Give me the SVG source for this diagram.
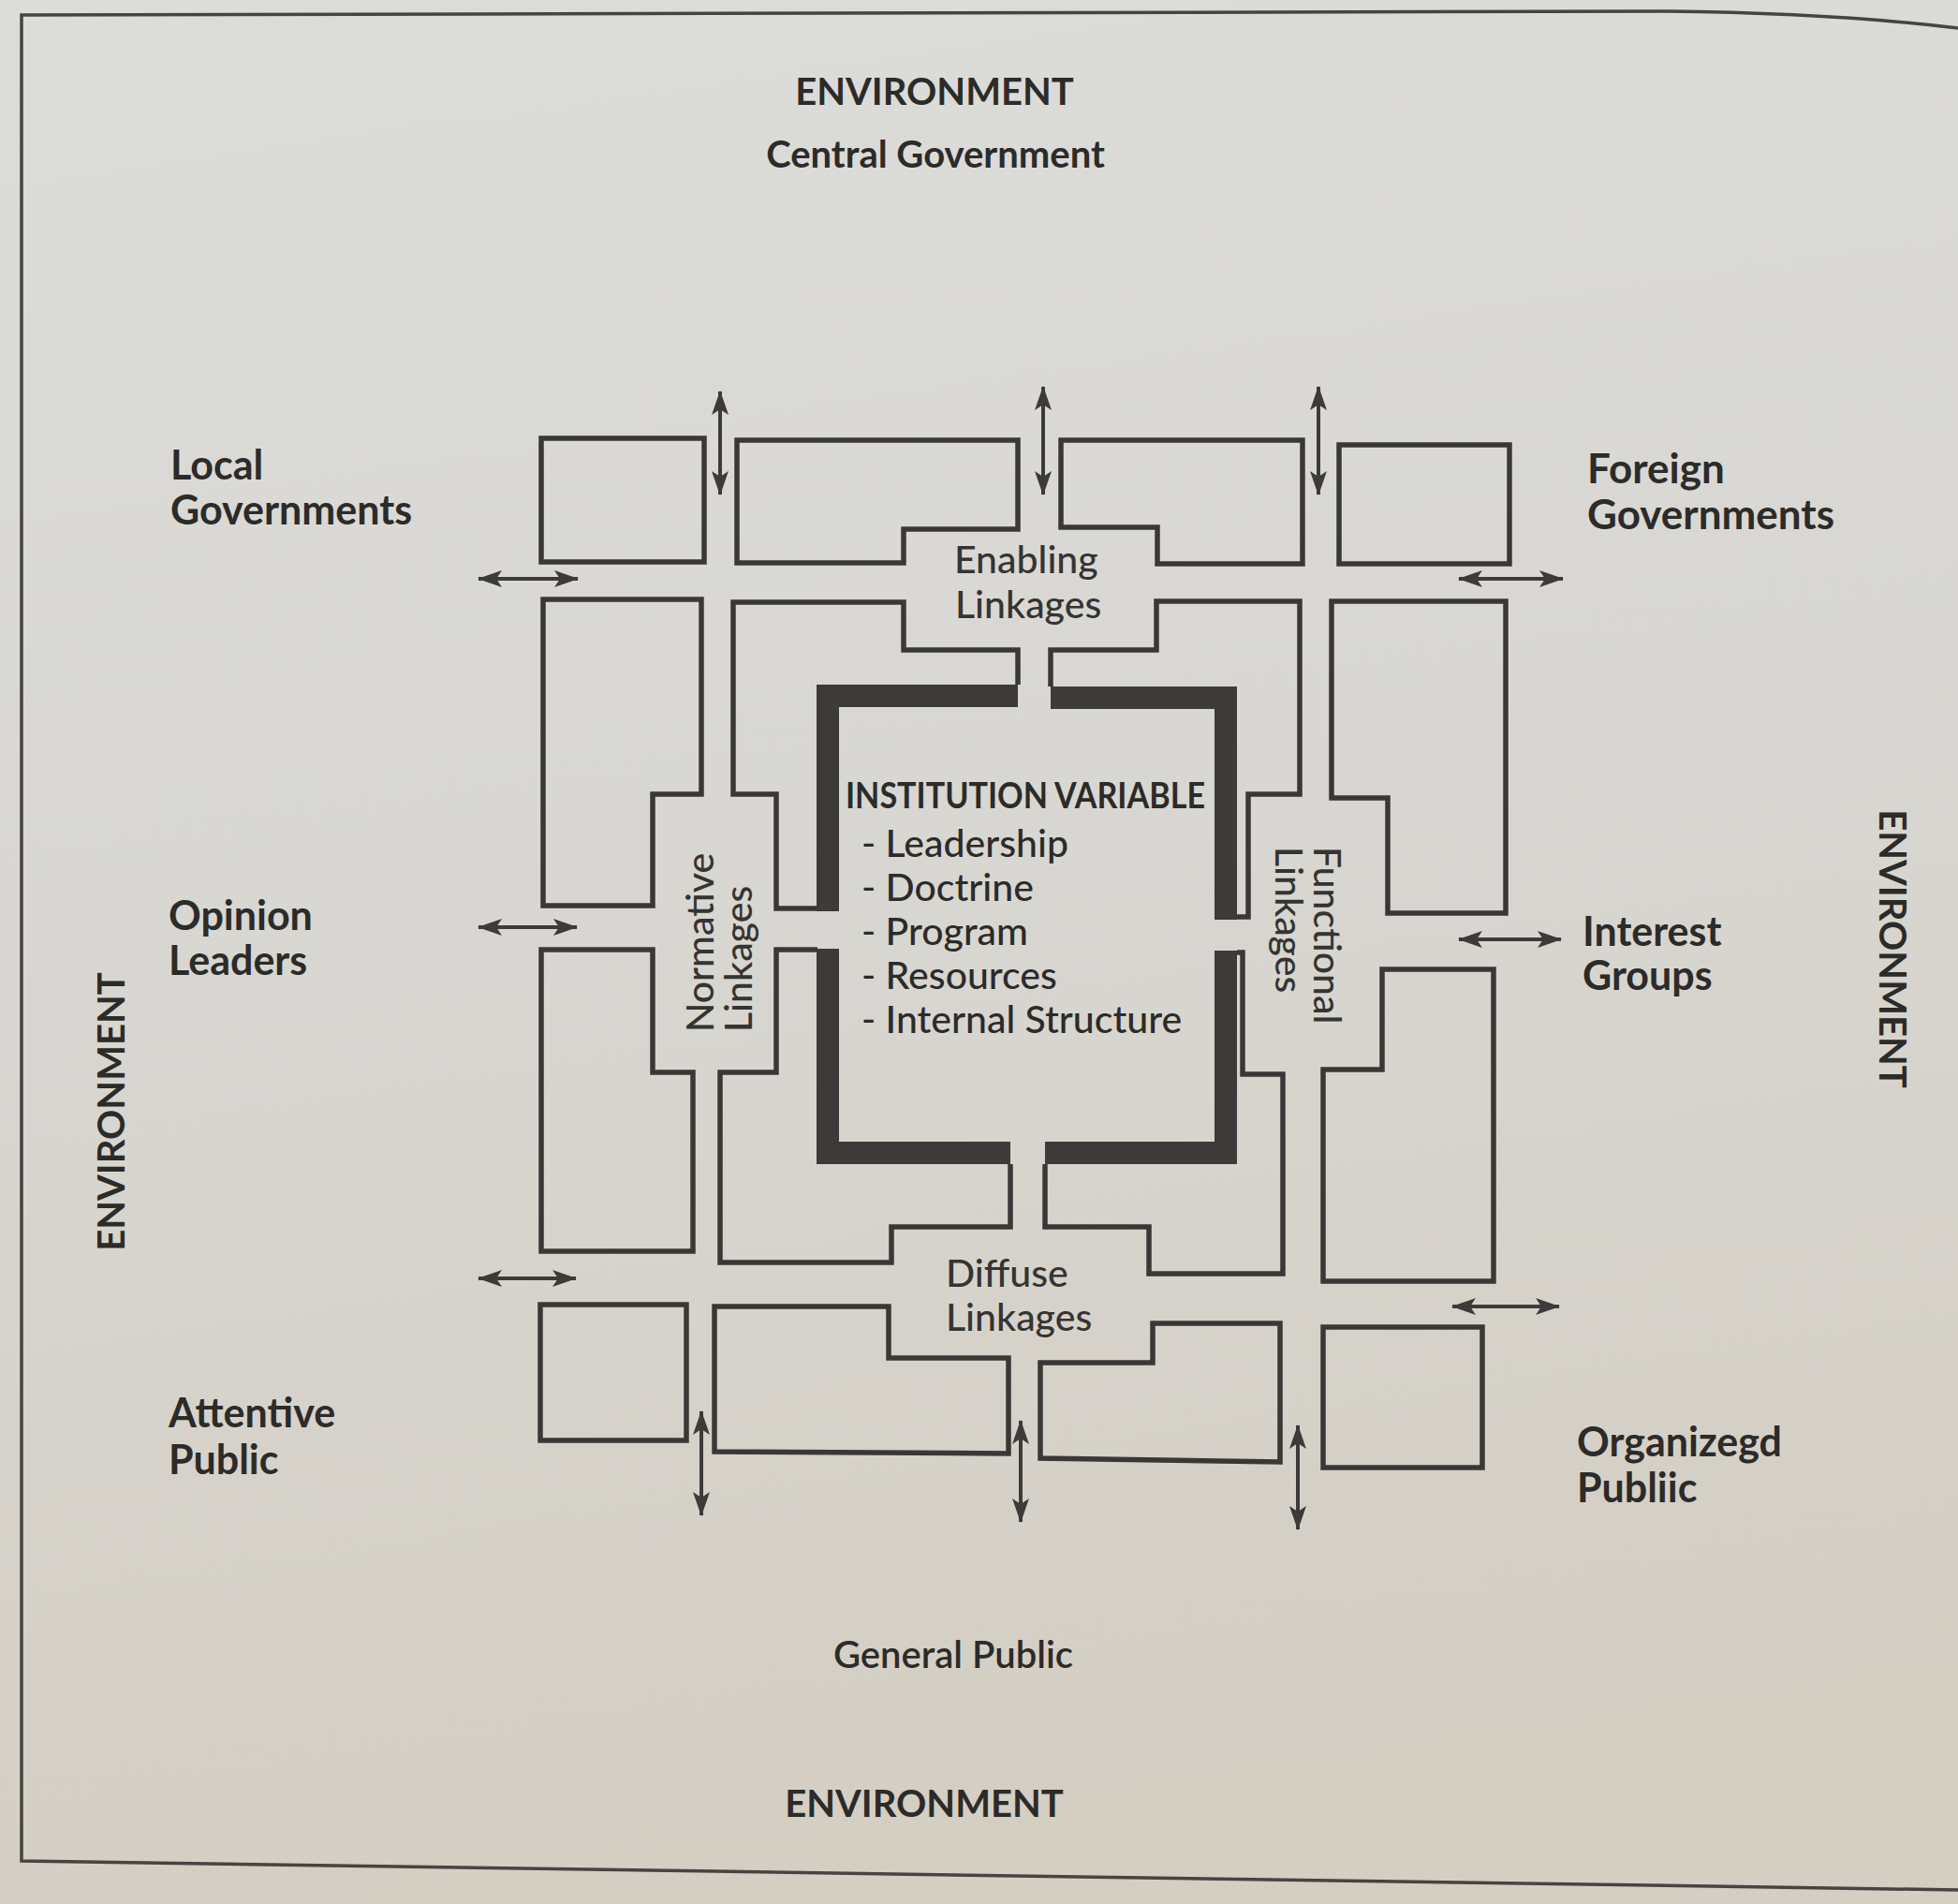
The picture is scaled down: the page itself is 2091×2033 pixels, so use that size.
<svg xmlns="http://www.w3.org/2000/svg" width="2091" height="2033" viewBox="0 0 2091 2033">
<defs>
  <linearGradient id="bg" x1="0" y1="0" x2="0.15" y2="1">
    <stop offset="0" stop-color="#dcdcda"/>
    <stop offset="0.55" stop-color="#d8d6d1"/>
    <stop offset="1" stop-color="#d4cec3"/>
  </linearGradient>
  <marker id="ah" viewBox="0 0 26 18" refX="25" refY="9" markerWidth="26" markerHeight="18" markerUnits="userSpaceOnUse" orient="auto-start-reverse">
    <path d="M0,0 L26,9 L0,18 L6,9 Z" fill="#3d3b39"/>
  </marker>
</defs>
<style>
  .box{fill:none;stroke:#3a3836;stroke-width:5.5;stroke-linejoin:miter}
  .thick{fill:none;stroke:#3d3b39;stroke-width:24;stroke-linejoin:miter;stroke-linecap:butt}
  .arr{fill:none;stroke:#3d3b39;stroke-width:4;marker-start:url(#ah);marker-end:url(#ah)}
  .frame{fill:none;stroke:#454442;stroke-width:3.5}
  .lbl{font-family:Lato,"Open Sans","Liberation Sans",sans-serif;font-weight:700;font-size:43px;fill:#2c2b29}
  .env{font-family:Lato,"Open Sans","Liberation Sans",sans-serif;font-weight:700;font-size:40px;fill:#2c2b29}
  .lnk{font-family:Lato,"Open Sans","Liberation Sans",sans-serif;font-weight:500;font-size:41px;fill:#353432}
  .inst{font-family:Lato,"Open Sans","Liberation Sans",sans-serif;font-weight:700;font-size:39px;fill:#2c2b29}
  .item{font-family:Lato,"Open Sans","Liberation Sans",sans-serif;font-weight:500;font-size:41px;fill:#2c2b29}
</style>
<rect x="0" y="0" width="2091" height="2033" fill="url(#bg)"/>
<path class="frame" d="M2091,30 Q1960,14 1780,12 L23,16 L23,1987 L2091,2018"/>

<g id="environment-labels">
  <text class="env" x="998" y="112" text-anchor="middle">ENVIRONMENT</text>
  <text class="env" x="987" y="1940" text-anchor="middle">ENVIRONMENT</text>
  <text class="env" transform="translate(133,1187) rotate(-90)" text-anchor="middle">ENVIRONMENT</text>
  <text class="env" transform="translate(2007,1013) rotate(90)" text-anchor="middle">ENVIRONMENT</text>
</g>

<g id="central-government"><text class="env" x="999" y="179" text-anchor="middle">Central Government</text></g>
<g id="local-governments"><text class="lbl" x="182" y="512">Local</text><text class="lbl" x="182" y="560">Governments</text></g>
<g id="foreign-governments"><text class="lbl" x="1695" y="516" style="font-size:44px">Foreign</text><text class="lbl" x="1695" y="565" style="font-size:44px">Governments</text></g>
<g id="opinion-leaders"><text class="lbl" x="180" y="993">Opinion</text><text class="lbl" x="180" y="1041">Leaders</text></g>
<g id="interest-groups"><text class="lbl" x="1690" y="1010">Interest</text><text class="lbl" x="1690" y="1057">Groups</text></g>
<g id="attentive-public"><text class="lbl" x="180" y="1524">Attentive</text><text class="lbl" x="180" y="1574">Public</text></g>
<g id="organized-public"><text class="lbl" x="1684" y="1555">Organizegd</text><text class="lbl" x="1684" y="1604">Publiic</text></g>
<g id="general-public"><text class="env" x="1018" y="1781" text-anchor="middle" style="font-weight:600">General Public</text></g>

<g id="top-row">
  <rect class="box" x="578" y="468" width="174" height="132"/>
  <path class="box" d="M787,470 L1087,470 L1087,565 L965,565 L965,601 L787,601 Z"/>
  <path class="box" d="M1133,470 L1391,470 L1391,602 L1236,602 L1236,563 L1133,563 Z"/>
  <rect class="box" x="1430" y="475" width="182" height="127"/>
</g>

<g id="middle-upper">
  <path class="box" d="M580,640 L749,640 L749,848 L697,848 L697,967 L580,967 Z"/>
  <path class="box" d="M1087,731 L1087,694 L965,694 L965,643 L783,643 L783,848 L829,848 L829,970 L873,970"/>
  <path class="box" d="M1122,733 L1122,694 L1235,694 L1235,642 L1388,642 L1388,848 L1333,848 L1333,979 L1321,979"/>
  <path class="box" d="M1422,642 L1608,642 L1608,975 L1482,975 L1482,852 L1422,852 Z"/>
</g>

<g id="middle-lower">
  <path class="box" d="M578,1014 L697,1014 L697,1145 L740,1145 L740,1336 L578,1336 Z"/>
  <path class="box" d="M873,1014 L829,1014 L829,1145 L769,1145 L769,1348 L952,1348 L952,1310 L1079,1310 L1079,1243"/>
  <path class="box" d="M1321,1017 L1327,1017 L1327,1147 L1370,1147 L1370,1360 L1227,1360 L1227,1310 L1116,1310 L1116,1243"/>
  <path class="box" d="M1476,1035 L1595,1035 L1595,1368 L1413,1368 L1413,1142 L1476,1142 Z"/>
</g>

<g id="bottom-row">
  <rect class="box" x="577" y="1393" width="156" height="145"/>
  <path class="box" d="M763,1395 L949,1395 L949,1450 L1077,1450 L1077,1552 L763,1550 Z"/>
  <path class="box" d="M1111,1455 L1231,1455 L1231,1413 L1367,1413 L1367,1561 L1111,1557 Z"/>
  <rect class="box" x="1413" y="1417" width="170" height="150"/>
</g>

<g id="institution">
  <path class="thick" d="M1087,743 L884,743 L884,973"/>
  <path class="thick" d="M884,1013 L884,1231 L1079,1231"/>
  <path class="thick" d="M1116,1231 L1309,1231 L1309,1015"/>
  <path class="thick" d="M1309,982 L1309,745 L1122,745"/>
  <text class="inst" x="903" y="863" textLength="384" lengthAdjust="spacingAndGlyphs">INSTITUTION VARIABLE</text>
  <text class="item" x="920" y="915">- Leadership</text>
  <text class="item" x="920" y="962">- Doctrine</text>
  <text class="item" x="920" y="1009">- Program</text>
  <text class="item" x="920" y="1056">- Resources</text>
  <text class="item" x="920" y="1103">- Internal Structure</text>
</g>

<g id="enabling-linkages"><text class="lnk" x="1019" y="612">Enabling</text><text class="lnk" x="1020" y="660">Linkages</text></g>
<g id="diffuse-linkages"><text class="lnk" x="1010" y="1374">Diffuse</text><text class="lnk" x="1010" y="1421">Linkages</text></g>
<g id="normative-linkages"><text class="lnk" transform="translate(762,1102) rotate(-90)">Normative</text><text class="lnk" transform="translate(803,1102) rotate(-90)">Linkages</text></g>
<g id="functional-linkages"><text class="lnk" transform="translate(1403,904) rotate(90)">Functional</text><text class="lnk" transform="translate(1362,904) rotate(90)">Linkages</text></g>

<g id="connectors">
  <line class="arr" x1="769" y1="418" x2="769" y2="528"/>
  <line class="arr" x1="1114" y1="413" x2="1114" y2="528"/>
  <line class="arr" x1="1408" y1="413" x2="1408" y2="528"/>
  <line class="arr" x1="511" y1="618" x2="617" y2="618"/>
  <line class="arr" x1="1558" y1="618" x2="1669" y2="618"/>
  <line class="arr" x1="511" y1="990" x2="616" y2="990"/>
  <line class="arr" x1="1558" y1="1003" x2="1667" y2="1003"/>
  <line class="arr" x1="511" y1="1365" x2="615" y2="1365"/>
  <line class="arr" x1="1551" y1="1395" x2="1665" y2="1395"/>
  <line class="arr" x1="749" y1="1507" x2="749" y2="1618"/>
  <line class="arr" x1="1090" y1="1517" x2="1090" y2="1625"/>
  <line class="arr" x1="1386" y1="1522" x2="1386" y2="1633"/>
</g>
</svg>
